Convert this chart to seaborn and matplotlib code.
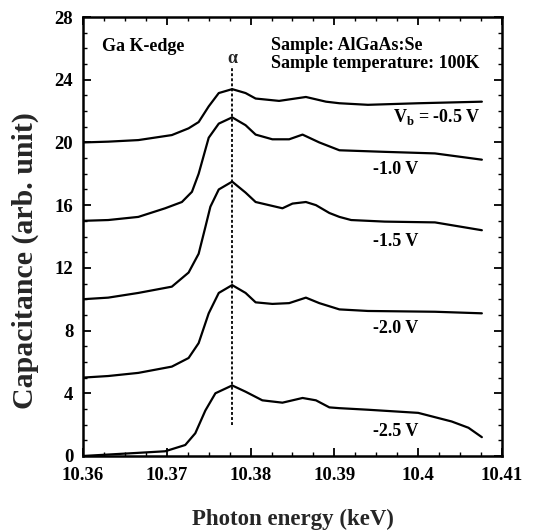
import matplotlib
matplotlib.use("Agg")
import matplotlib.pyplot as plt
import seaborn as sns
import pandas as pd
from matplotlib.ticker import MultipleLocator

# ---- data ----
e_05 = [10.3600, 10.3630, 10.3666, 10.3706, 10.3726, 10.3738, 10.3750, 10.3762, 10.3778, 10.3794, 10.3806,
        10.3834, 10.3866, 10.3890, 10.3906, 10.3940, 10.4000, 10.4076]
c_05 = [20.0, 20.05, 20.15, 20.47, 20.9, 21.3, 22.3, 23.15, 23.4, 23.15, 22.8,
        22.65, 22.9, 22.6, 22.5, 22.4, 22.5, 22.6]

e_10 = [10.3600, 10.3630, 10.3666, 10.3698, 10.3718, 10.3730, 10.3738, 10.3750, 10.3762, 10.3778, 10.3794,
        10.3806, 10.3826, 10.3846, 10.3862, 10.3882, 10.3906, 10.3960, 10.4020, 10.4076]
c_10 = [15.0, 15.05, 15.25, 15.8, 16.2, 16.85, 18.0, 20.3, 21.2, 21.6, 21.1,
        20.5, 20.2, 20.2, 20.5, 20.0, 19.5, 19.4, 19.3, 18.9]

e_15 = [10.3600, 10.3630, 10.3666, 10.3706, 10.3726, 10.3738, 10.3746, 10.3752, 10.3762, 10.3778, 10.3794,
        10.3806, 10.3826, 10.3838, 10.3850, 10.3866, 10.3878, 10.3894, 10.3906, 10.3920, 10.3960, 10.4020, 10.4076]
c_15 = [10.0, 10.1, 10.4, 10.8, 11.7, 12.9, 14.6, 15.9, 17.0, 17.5, 16.8,
        16.2, 15.95, 15.8, 16.1, 16.2, 16.0, 15.5, 15.25, 15.05, 14.95, 14.9, 14.4]

e_20 = [10.3600, 10.3630, 10.3666, 10.3706, 10.3726, 10.3738, 10.3750, 10.3762, 10.3778, 10.3794, 10.3806,
        10.3826, 10.3846, 10.3866, 10.3882, 10.3906, 10.3940, 10.4020, 10.4076]
c_20 = [5.0, 5.1, 5.3, 5.7, 6.25, 7.2, 9.1, 10.4, 10.9, 10.4, 9.8,
        9.7, 9.75, 10.1, 9.75, 9.35, 9.25, 9.2, 9.1]

e_25 = [10.3600, 10.3666, 10.3698, 10.3722, 10.3734, 10.3746, 10.3758, 10.3778, 10.3794, 10.3814, 10.3838,
        10.3862, 10.3878, 10.3894, 10.3906, 10.3940, 10.4000, 10.4040, 10.4060, 10.4076]
c_25 = [0.0, 0.2, 0.3, 0.7, 1.45, 2.9, 4.0, 4.5, 4.1, 3.55, 3.4,
        3.7, 3.55, 3.1, 3.05, 2.95, 2.75, 2.2, 1.8, 1.2]

bias_labels = ["-0.5 V", "-1.0 V", "-1.5 V", "-2.0 V", "-2.5 V"]
label_y = [21.6, 18.25, 13.65, 8.15, 1.55]
alpha_energy = 10.3778
alpha_span = [2.0, 24.9]

x_ticks = [10.36, 10.37, 10.38, 10.39, 10.40, 10.41]
x_tick_labels = ["10.36", "10.37", "10.38", "10.39", "10.4", "10.41"]
y_ticks = [0, 4, 8, 12, 16, 20, 24, 28]

# ---- build frame ----
frames = []
for lab, e, c in zip(bias_labels, [e_05, e_10, e_15, e_20, e_25], [c_05, c_10, c_15, c_20, c_25]):
    frames.append(pd.DataFrame({"energy": e, "cap": c, "bias": lab}))
df = pd.concat(frames, ignore_index=True)

sns.set_theme(style="ticks")
plt.rcParams['font.family'] = ['Liberation Serif', 'DejaVu Serif']
plt.rcParams['font.weight'] = 'bold'
plt.rcParams['mathtext.fontset'] = 'custom'
plt.rcParams['mathtext.bf'] = 'Liberation Serif:bold'
plt.rcParams['mathtext.rm'] = 'Liberation Serif:bold'

fig = plt.figure(figsize=(5.48, 5.32), dpi=100)
ax = fig.add_axes([0.1515, 0.1429, 0.7645, 0.8251])

sns.lineplot(data=df, x="energy", y="cap", units="bias", estimator=None,
             sort=False, color="black", linewidth=1.6, ax=ax, legend=False)
for ln in ax.get_lines():
    ln.set_solid_joinstyle("round")
    ln.set_solid_capstyle("round")

ax.plot([alpha_energy, alpha_energy], alpha_span, color="black",
        linestyle=(0, (1.6, 1.2)), linewidth=1.3)

ax.set_xlim(10.36, 10.41)
ax.set_ylim(0, 28)
ax.set_xticks(x_ticks)
ax.set_xticklabels(x_tick_labels)
ax.set_yticks(y_ticks)
ax.xaxis.set_minor_locator(MultipleLocator(0.0025))
ax.yaxis.set_minor_locator(MultipleLocator(1))
ax.tick_params(which="both", direction="in", top=True, right=True, colors="black")
ax.tick_params(which="major", length=6, width=1.3, labelsize=13.5)
ax.tick_params(axis="x", which="major", pad=8)
ax.tick_params(axis="y", which="major", pad=7)
ax.tick_params(which="minor", length=3, width=1.0)
for lbl in ax.get_xticklabels() + ax.get_yticklabels():
    lbl.set_fontweight("bold")
for sp in ax.spines.values():
    sp.set_linewidth(1.8)
    sp.set_color("black")

ax.set_xlabel("Photon energy (keV)", fontsize=16.5, fontweight="bold")
ax.xaxis.set_label_coords(0.5, -0.12)
ax.set_ylabel("Capacitance (arb. unit)", fontsize=21.5, fontweight="bold")
ax.yaxis.set_label_coords(-0.104, 0.446)

tkw = dict(fontsize=13, fontweight="bold", color="black")
ax.text(10.3623, 26.15, "Ga K-edge", ha="left", va="center", **tkw)
ax.text(10.3824, 26.2, "Sample: AlGaAs:Se", ha="left", va="center", **tkw)
ax.text(10.3824, 25.05, "Sample temperature: 100K", ha="left", va="center", **tkw)
ax.text(alpha_energy, 25.35, "α", ha="center", va="center", fontsize=13, fontweight="bold")
ax.text(10.3970, label_y[0], r"V$_\mathbf{b}$ = " + bias_labels[0], ha="left", va="center", **tkw)
for lab, yv in zip(bias_labels[1:], label_y[1:]):
    ax.text(10.3946, yv, lab, ha="left", va="center", **tkw)

fig.savefig("out.png", dpi=100)
